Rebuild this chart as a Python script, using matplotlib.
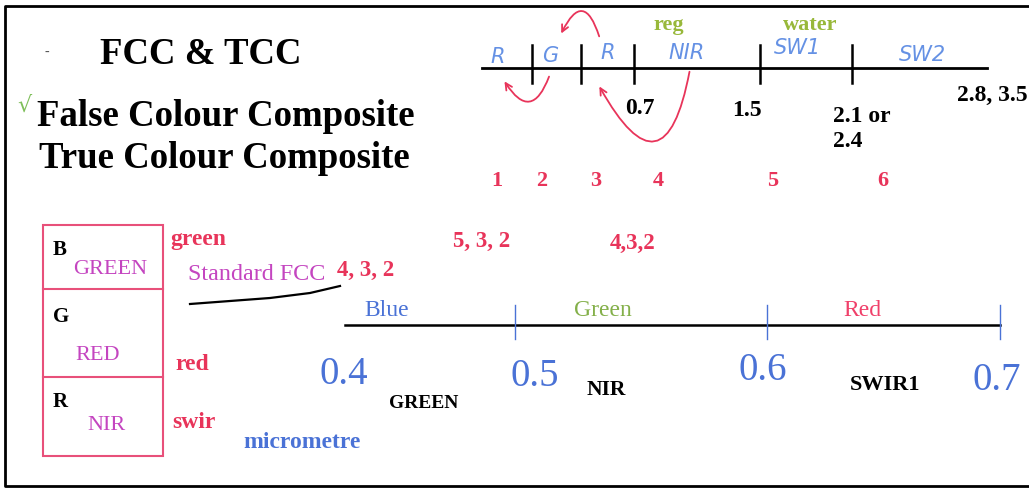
import matplotlib
matplotlib.use('Agg')
import matplotlib.pyplot as plt
from matplotlib.patches import FancyArrowPatch, Rectangle

# Slide text / values
title = "FCC & TCC"
headings = ["False Colour Composite", "True Colour Composite"]

# upper (handwritten) band line
upperBands = ["R", "G", "R", "NIR", "SW1", "SW2"]
upperBandNums = ["1", "2", "3", "4", "5", "6"]
upperEdges = ["0.7", "1.5", "2.1 or\n2.4", "2.8, 3.5"]
upperNotes = ["reg", "water"]

# lower visible spectrum line
lowerTicks = ["0.4", "0.5", "0.6", "0.7"]
lowerBands = ["Blue", "Green", "Red"]
lowerBelow = ["GREEN", "NIR", "SWIR1"]
unitLabel = "micrometre"

# left box
boxChannels = ["B", "G", "R"]
boxBands = ["GREEN", "RED", "NIR"]
boxSide = ["green", "red", "swir"]
combos = ["4, 3, 2", "5, 3, 2", "4,3,2"]

RED = '#e8345a'
MAGENTA = '#c445c0'
BLUE = '#4a72d6'
HAND = '#4a7ee0'
YGREEN = '#98b83a'
SERIF = 'Liberation Serif'


def main():
    fig = plt.figure(figsize=(10.29, 4.89), dpi=100)
    ax = fig.add_axes([0, 0, 1, 1])
    ax.set_xlim(0, 1029)
    ax.set_ylim(489, 0)
    ax.axis('off')

    # outer frame (right side is cut off in the scan)
    ax.plot([1029, 5, 5, 1029], [7, 7, 487, 487], color='black', lw=2)

    # headings
    ax.text(47, 52, "-", fontsize=10, color='#555555', ha='center', va='center', family=SERIF)
    ax.text(100, 55, title, fontsize=26.5, fontweight='bold', family=SERIF, va='center')
    ax.text(24, 106, "\u221a", fontsize=16, color='#7fbf5a', ha='center', va='center')
    ax.text(37, 116, headings[0], fontsize=26.5, fontweight='bold', family=SERIF, va='center')
    ax.text(39, 159, headings[1], fontsize=26.5, fontweight='bold', family=SERIF, va='center')

    # upper band line
    ax.plot([482, 987], [69, 69], color='black', lw=2)
    tickX = [532, 581, 634, 760, 852]
    for x in tickX:
        ax.plot([x, x], [46, 84], color='black', lw=1.8)
    bandX = [498, 550, 608, 687, 797, 922]
    bandY = [57, 56, 53, 53, 48, 55]
    for name, x, y in zip(upperBands, bandX, bandY):
        ax.text(x, y, name, fontsize=15, color=HAND, style='italic',
                family='DejaVu Sans', ha='center', va='center', alpha=0.85)
    for note, x in zip(upperNotes, [669, 810]):
        ax.text(x, 25, note, fontsize=16, fontweight='bold', color=YGREEN,
                family=SERIF, ha='center', va='center')
    edgePos = [(640, 108, 'center'), (747, 111, 'center'), (833, 129, 'left'), (992, 95, 'center')]
    for lab, (x, y, ha) in zip(upperEdges, edgePos):
        ax.text(x, y, lab, fontsize=17, fontweight='bold', family=SERIF,
                ha=ha, va='center', linespacing=1.2)
    numX = [497, 542, 596, 658, 773, 883]
    for lab, x in zip(upperBandNums, numX):
        ax.text(x, 181, lab, fontsize=16, fontweight='bold', color=RED,
                family=SERIF, ha='center', va='center')

    # handwritten red arrows
    arrowKw = dict(arrowstyle='->', color=RED, lw=1.3, mutation_scale=12)
    ax.add_patch(FancyArrowPatch((600, 40), (560, 37), connectionstyle='arc3,rad=1.3', **arrowKw))
    ax.add_patch(FancyArrowPatch((550, 75), (503, 80), connectionstyle='arc3,rad=-1.05', **arrowKw))
    ax.add_patch(FancyArrowPatch((690, 70), (598, 85), connectionstyle='arc3,rad=-1.4', **arrowKw))

    # left box
    ax.add_patch(Rectangle((43, 226), 120, 231, fill=False, ec='#e8507a', lw=1.5))
    for y in [290, 378]:
        ax.plot([43, 163], [y, y], color='#e8507a', lw=1.5)
    for lab, y in zip(boxChannels, [250, 317, 402]):
        ax.text(53, y, lab, fontsize=15, fontweight='bold', family=SERIF, va='center')
    for lab, (x, y) in zip(boxBands, [(110, 270), (98, 356), (106, 425)]):
        ax.text(x, y, lab, fontsize=16, color=MAGENTA, family=SERIF, ha='center', va='center')
    for lab, (x, y) in zip(boxSide, [(170, 239), (175, 364), (172, 423)]):
        ax.text(x, y, lab, fontsize=17, fontweight='bold', color=RED, family=SERIF, va='center')

    ax.text(188, 274, "Standard FCC", fontsize=17.4, color=MAGENTA, family=SERIF, va='center')
    ax.plot([190, 230, 270, 310, 340], [305, 302, 299, 294, 287], color='black', lw=1.6)
    for lab, (x, y) in zip(combos, [(337, 270), (453, 241), (610, 243)]):
        ax.text(x, y, lab, fontsize=16.5, fontweight='bold', color=RED, family=SERIF, va='center')

    # lower spectrum line
    ax.plot([345, 1000], [326, 326], color='black', lw=1.8)
    lowTickX = [515, 767, 1000]
    for x in lowTickX:
        ax.plot([x, x], [306, 340], color=BLUE, lw=1)
    for lab, x, col in zip(lowerBands, [387, 603, 862], [BLUE, '#84b04a', '#f0406a']):
        ax.text(x, 311, lab, fontsize=17, color=col, family=SERIF, ha='center', va='center')
    for lab, (x, y) in zip(lowerTicks, [(344, 374), (535, 377), (763, 371), (997, 380)]):
        ax.text(x, y, lab, fontsize=28, color=BLUE, family=SERIF, ha='center', va='center')
    for (lab, (x, y)), fs in zip(zip(lowerBelow, [(424, 404), (606, 390), (885, 385)]), [14, 15.5, 16]):
        ax.text(x, y, lab, fontsize=fs, fontweight='bold', family=SERIF, ha='center', va='center')
    ax.text(302, 442, unitLabel, fontsize=17, fontweight='bold', color=BLUE,
            family=SERIF, ha='center', va='center')

    fig.savefig('out.png', dpi=100)


if __name__ == "__main__":
    main()
